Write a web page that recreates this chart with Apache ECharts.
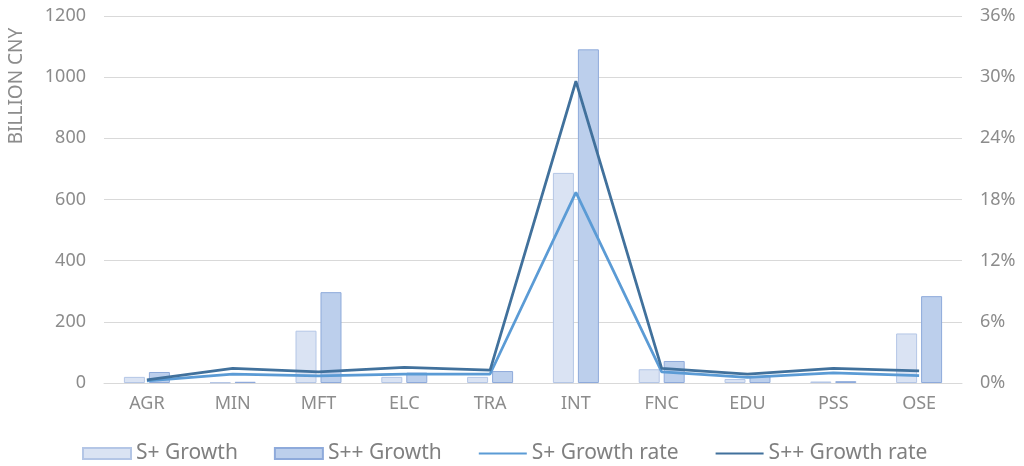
<!DOCTYPE html>
<html>
<head>
<meta charset="utf-8">
<script src="https://cdn.jsdelivr.net/npm/echarts@6/dist/echarts.min.js"></script>
<style>
html,body{margin:0;padding:0;background:#fff;}
#chart{width:1024px;height:466px;}
</style>
</head>
<body>
<div id="chart"></div>
<script>
const categories = ['AGR','MIN','MFT','ELC','TRA','INT','FNC','EDU','PSS','OSE'];
const sPlusGrowth = [20, 2, 171, 20, 20, 687, 45, 13, 5, 162];
const sPPGrowth = [36, 4, 297, 34, 39, 1091, 72, 23, 6, 284];
const sPlusRate = [0.2, 0.88, 0.69, 0.88, 0.88, 18.7, 1.1, 0.56, 1.0, 0.72];
const sPPRate = [0.3, 1.44, 1.1, 1.54, 1.27, 29.6, 1.44, 0.88, 1.44, 1.18];
const leftTicks = {min: 0, max: 1200, interval: 200};
const rightTicks = {min: 0, max: 36, interval: 6};

const FONT = 'Noto Sans';
const TXT = '#8c8c8c';
const GRID = '#d9d9d9';

const chart = echarts.init(document.getElementById('chart'));
chart.setOption({
  animation: false,
  grid: {left: 104, right: 62, top: 16, bottom: 83},
  legend: {
    top: 438,
    left: 77,
    itemWidth: 48,
    itemHeight: 11,
    itemGap: 36,
    textStyle: {fontFamily: FONT, fontSize: 21, color: '#808080'},
    data: [
      {name: 'S+ Growth', icon: 'rect'},
      {name: 'S++ Growth', icon: 'rect'},
      {name: 'S+ Growth rate', itemStyle: {opacity: 0}},
      {name: 'S++ Growth rate', itemStyle: {opacity: 0}}
    ]
  },
  graphic: [{
    type: 'text',
    x: 17, y: 86,
    rotation: Math.PI / 2,
    style: {
      text: 'BILLION CNY',
      fontFamily: FONT, fontSize: 19, fill: TXT,
      textAlign: 'center', textVerticalAlign: 'middle'
    }
  }],
  xAxis: {
    type: 'category',
    data: categories,
    axisLine: {show: true, lineStyle: {color: GRID, width: 1}},
    axisTick: {show: false},
    axisLabel: {fontFamily: FONT, fontSize: 18, color: TXT, margin: 12}
  },
  yAxis: [{
    type: 'value',
    min: leftTicks.min, max: leftTicks.max, interval: leftTicks.interval,
    axisLine: {show: false}, axisTick: {show: false},
    splitLine: {lineStyle: {color: GRID, width: 1}},
    axisLabel: {fontFamily: FONT, fontSize: 18, color: TXT, margin: 18, formatter: function (v) { return String(v); }}
  }, {
    type: 'value',
    min: rightTicks.min, max: rightTicks.max, interval: rightTicks.interval,
    axisLine: {show: false}, axisTick: {show: false},
    splitLine: {show: false},
    axisLabel: {fontFamily: FONT, fontSize: 18, color: TXT, margin: 18, formatter: '{value}%'}
  }],
  series: [{
    name: 'S+ Growth', type: 'bar', data: sPlusGrowth,
    barWidth: 21, barGap: '19%',
    itemStyle: {color: '#dae3f3', borderColor: '#b4c6e6', borderWidth: 1}
  }, {
    name: 'S++ Growth', type: 'bar', data: sPPGrowth,
    barWidth: 21, barGap: '19%',
    itemStyle: {color: '#bccfec', borderColor: '#8eaadb', borderWidth: 1}
  }, {
    name: 'S+ Growth rate', type: 'line', yAxisIndex: 1, data: sPlusRate,
    symbol: 'none', showSymbol: false,
    lineStyle: {color: '#5b9bd5', width: 2.75},
    itemStyle: {color: '#5b9bd5'}
  }, {
    name: 'S++ Growth rate', type: 'line', yAxisIndex: 1, data: sPPRate,
    symbol: 'none', showSymbol: false,
    lineStyle: {color: '#41719c', width: 2.75},
    itemStyle: {color: '#41719c'}
  }]
});
</script>
</body>
</html>
